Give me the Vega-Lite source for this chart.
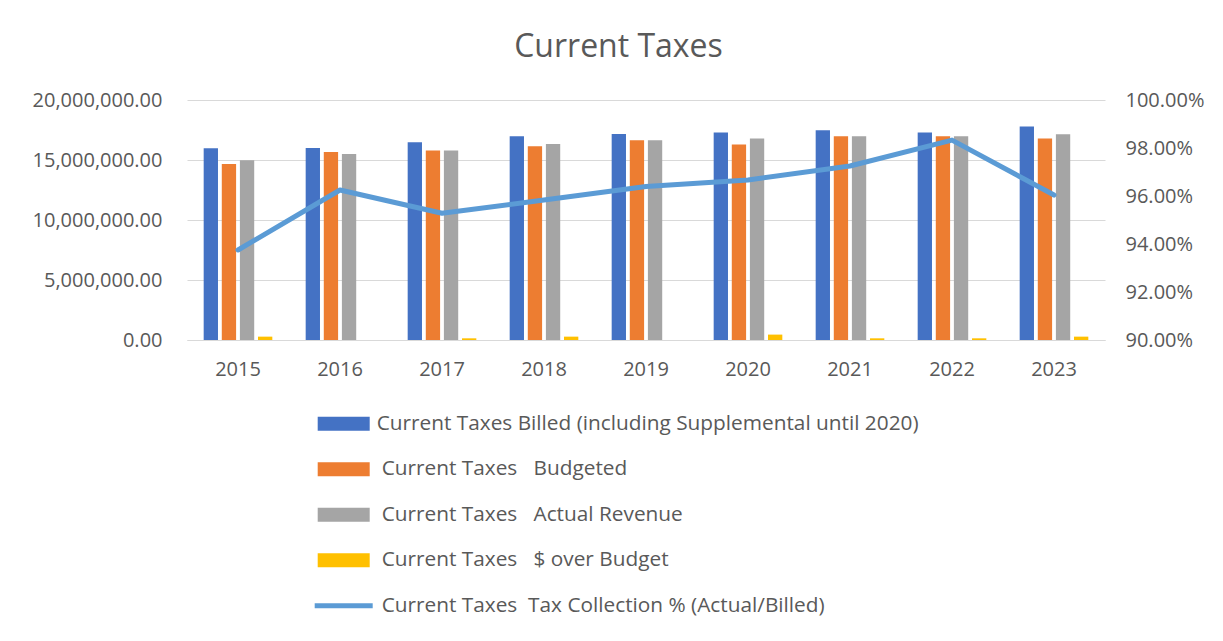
{
  "$schema": "https://vega.github.io/schema/vega-lite/v6.json",
  "autosize": "none",
  "width": 918,
  "height": 240,
  "padding": {"left": 187, "top": 100, "right": 118, "bottom": 301},
  "background": "white",
  "config": {
    "font": "Open Sans",
    "view": {"stroke": null},
    "axis": {"labelColor": "#595959", "labelFontSize": 20, "labelFont": "Open Sans", "titleColor": "#595959"}
  },
  "title": {
    "text": "Current Taxes",
    "fontSize": 32,
    "font": "Open Sans",
    "fontWeight": "normal",
    "color": "#595959",
    "anchor": "middle",
    "frame": "group",
    "baseline": "alphabetic",
    "offset": 1,
    "dx": -27.5
  },
  "datasets": {
    "bars": [
      {"year": "2015", "series": "Current Taxes Billed (including Supplemental until 2020)", "value": 15970000},
      {"year": "2016", "series": "Current Taxes Billed (including Supplemental until 2020)", "value": 16000000},
      {"year": "2017", "series": "Current Taxes Billed (including Supplemental until 2020)", "value": 16470000},
      {"year": "2018", "series": "Current Taxes Billed (including Supplemental until 2020)", "value": 16970000},
      {"year": "2019", "series": "Current Taxes Billed (including Supplemental until 2020)", "value": 17170000},
      {"year": "2020", "series": "Current Taxes Billed (including Supplemental until 2020)", "value": 17300000},
      {"year": "2021", "series": "Current Taxes Billed (including Supplemental until 2020)", "value": 17470000},
      {"year": "2022", "series": "Current Taxes Billed (including Supplemental until 2020)", "value": 17300000},
      {"year": "2023", "series": "Current Taxes Billed (including Supplemental until 2020)", "value": 17800000},
      {"year": "2015", "series": "Current Taxes Budgeted", "value": 14670000},
      {"year": "2016", "series": "Current Taxes Budgeted", "value": 15670000},
      {"year": "2017", "series": "Current Taxes Budgeted", "value": 15800000},
      {"year": "2018", "series": "Current Taxes Budgeted", "value": 16140000},
      {"year": "2019", "series": "Current Taxes Budgeted", "value": 16640000},
      {"year": "2020", "series": "Current Taxes Budgeted", "value": 16300000},
      {"year": "2021", "series": "Current Taxes Budgeted", "value": 16970000},
      {"year": "2022", "series": "Current Taxes Budgeted", "value": 16970000},
      {"year": "2023", "series": "Current Taxes Budgeted", "value": 16800000},
      {"year": "2015", "series": "Current Taxes Actual Revenue", "value": 14970000},
      {"year": "2016", "series": "Current Taxes Actual Revenue", "value": 15500000},
      {"year": "2017", "series": "Current Taxes Actual Revenue", "value": 15800000},
      {"year": "2018", "series": "Current Taxes Actual Revenue", "value": 16330000},
      {"year": "2019", "series": "Current Taxes Actual Revenue", "value": 16640000},
      {"year": "2020", "series": "Current Taxes Actual Revenue", "value": 16800000},
      {"year": "2021", "series": "Current Taxes Actual Revenue", "value": 16970000},
      {"year": "2022", "series": "Current Taxes Actual Revenue", "value": 16970000},
      {"year": "2023", "series": "Current Taxes Actual Revenue", "value": 17140000},
      {"year": "2015", "series": "Current Taxes $ over Budget", "value": 280000},
      {"year": "2016", "series": "Current Taxes $ over Budget", "value": -170000},
      {"year": "2017", "series": "Current Taxes $ over Budget", "value": 140000},
      {"year": "2018", "series": "Current Taxes $ over Budget", "value": 280000},
      {"year": "2019", "series": "Current Taxes $ over Budget", "value": -20000},
      {"year": "2020", "series": "Current Taxes $ over Budget", "value": 450000},
      {"year": "2021", "series": "Current Taxes $ over Budget", "value": 140000},
      {"year": "2022", "series": "Current Taxes $ over Budget", "value": 140000},
      {"year": "2023", "series": "Current Taxes $ over Budget", "value": 280000}
    ],
    "pct": [
      {"year": "2015", "pct": 0.9375},
      {"year": "2016", "pct": 0.9625},
      {"year": "2017", "pct": 0.9528},
      {"year": "2018", "pct": 0.9583},
      {"year": "2019", "pct": 0.964},
      {"year": "2020", "pct": 0.9667},
      {"year": "2021", "pct": 0.9725},
      {"year": "2022", "pct": 0.9833},
      {"year": "2023", "pct": 0.9604}
    ]
  },
  "encoding": {
    "x": {
      "field": "year",
      "type": "nominal",
      "scale": {"paddingInner": 0.327, "paddingOuter": 0.1635},
      "axis": {"title": null, "labelAngle": 0, "ticks": false, "domainColor": "#d9d9d9", "domainWidth": 1, "labelPadding": 19}
    }
  },
  "layer": [
    {
      "data": {"name": "bars"},
      "mark": {"type": "bar", "clip": true},
      "encoding": {
        "xOffset": {
          "field": "series",
          "type": "nominal",
          "sort": ["Current Taxes Billed (including Supplemental until 2020)", "Current Taxes Budgeted", "Current Taxes Actual Revenue", "Current Taxes $ over Budget"],
          "scale": {"paddingInner": 0.21, "paddingOuter": 0}
        },
        "y": {
          "field": "value",
          "type": "quantitative",
          "scale": {"domain": [0, 20000000], "nice": false, "zero": true},
          "axis": {"title": null, "values": [0, 5000000, 10000000, 15000000, 20000000], "format": ",.2f", "domain": false, "ticks": false, "grid": true, "gridColor": "#d9d9d9", "labelPadding": 25}
        },
        "color": {
          "field": "series",
          "type": "nominal",
          "scale": {
            "domain": ["Current Taxes Billed (including Supplemental until 2020)", "Current Taxes Budgeted", "Current Taxes Actual Revenue", "Current Taxes $ over Budget", "Current Taxes Tax Collection % (Actual/Billed)"],
            "range": ["#4472C4", "#ED7D31", "#A5A5A5", "#FFC000", "#5B9BD5"]
          },
          "legend": {
            "orient": "none",
            "legendX": 136.7,
            "legendY": 303.7,
            "direction": "vertical",
            "title": null,
            "padding": 0,
            "rowPadding": 15.5,
            "symbolType": "M-1.3,-0.35H1.3V0.35H-1.3Z",
            "symbolSize": 1600,
            "symbolStrokeWidth": 0,
            "labelOffset": 13,
            "labelFontSize": 20.8,
            "labelFont": "Open Sans",
            "labelColor": "#595959",
            "labelLimit": 1000,
            "labelExpr": "indexof(datum.label, 'Billed (') >= 0 ? datum.label : replace(datum.label, 'Taxes ', indexof(datum.label, 'Collection') >= 0 ? 'Taxes\u00a0\u00a0' : 'Taxes\u00a0\u00a0\u00a0')",
            "encode": {
              "symbols": {
                "update": {
                  "shape": {"signal": "indexof(datum.value, 'Collection') >= 0 ? 'M-1.45,-0.125H1.45V0.125H-1.45Z' : 'M-1.3,-0.35H1.3V0.35H-1.3Z'"}
                }
              },
              "labels": {
                "update": {
                  "dx": {"signal": "indexof(datum.value, 'Billed (') >= 0 ? 0 : 5"}
                }
              }
            }
          }
        }
      }
    },
    {
      "data": {"name": "pct"},
      "mark": {"type": "line", "strokeWidth": 5, "strokeJoin": "round", "strokeCap": "round"},
      "encoding": {
        "y": {
          "field": "pct",
          "type": "quantitative",
          "scale": {"domain": [0.9, 1.0], "nice": false, "zero": false},
          "axis": {"title": null, "orient": "right", "values": [0.9, 0.92, 0.94, 0.96, 0.98, 1.0], "format": ".2%", "domain": false, "ticks": false, "grid": false, "labelPadding": 20}
        },
        "color": {"datum": "Current Taxes Tax Collection % (Actual/Billed)"}
      }
    }
  ],
  "resolve": {"scale": {"y": "independent"}}
}
